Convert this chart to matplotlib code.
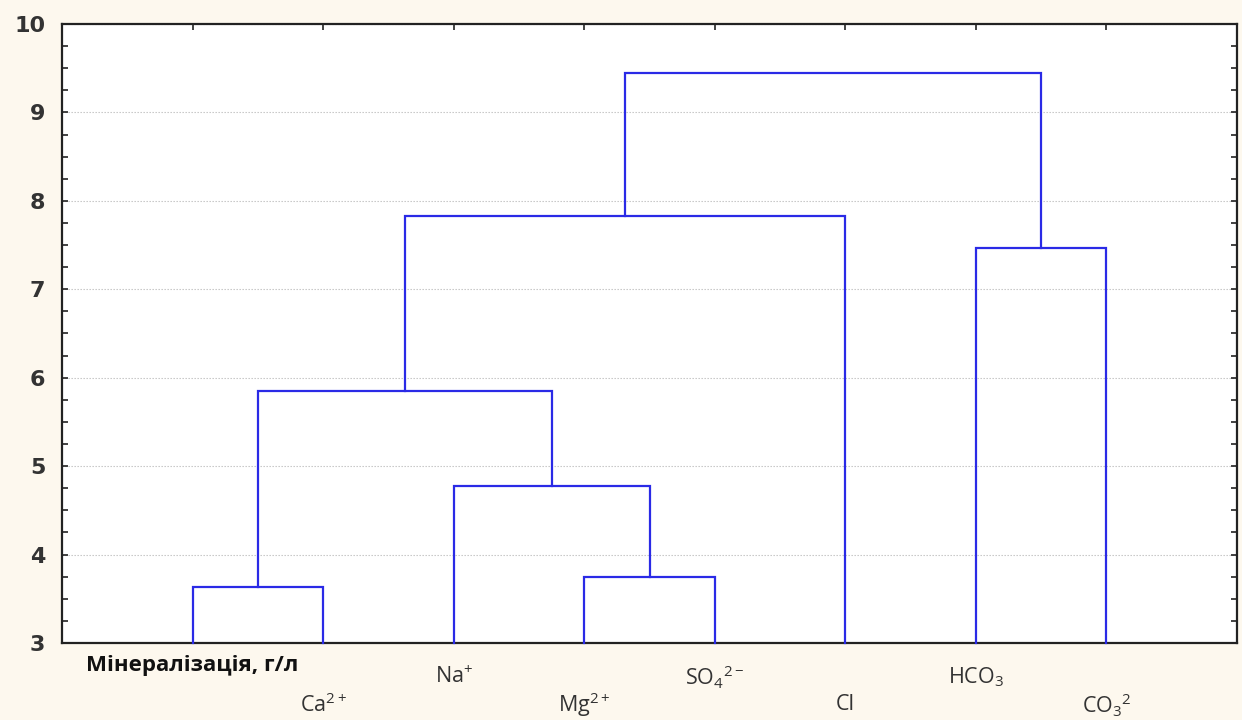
import matplotlib
matplotlib.use("Agg")
import matplotlib.pyplot as plt
from matplotlib.ticker import MultipleLocator
import matplotlib.transforms as mtransforms

# ---- data ----
leaf_labels = ["Мінералізація, г/л", "Ca$^{\\mathregular{2+}}$", "Na$^{\\mathregular{+}}$",
               "Mg$^{\\mathregular{2+}}$", "SO$_{\\mathregular{4}}$$^{\\mathregular{2-}}$", "Cl",
               "HCO$_{\\mathregular{3}}$", "CO$_{\\mathregular{3}}$$^{\\mathregular{2}}$"]
# merges: (cluster a, cluster b, linkage distance); new clusters numbered from 8
merge_a = [0, 3, 2, 8, 11, 6, 12]
merge_b = [1, 4, 9, 10, 5, 7, 13]
merge_h = [3.63, 3.75, 4.77, 5.85, 7.83, 7.47, 9.45]

y_ticks = [3, 4, 5, 6, 7, 8, 9, 10]

line_color = "#2a2ae6"
bg = "#fdf8ee"

fig = plt.figure(figsize=(12.42, 7.2), dpi=100, facecolor=bg)
ax = fig.add_axes([62 / 1242, 77 / 720, (1237 - 62) / 1242, (643 - 24) / 720])
ax.set_facecolor("white")

n = len(leaf_labels)
xpos = {i: i + 1 for i in range(n)}
ypos = {i: 3.0 for i in range(n)}
for k, (a, b, h) in enumerate(zip(merge_a, merge_b, merge_h)):
    xa, xb = xpos[a], xpos[b]
    ya, yb = ypos[a], ypos[b]
    ax.plot([xa, xa, xb, xb], [ya, h, h, yb], color=line_color, lw=1.6,
            solid_joinstyle="miter", zorder=3, clip_on=False)
    new = n + k
    xpos[new] = (xa + xb) / 2
    ypos[new] = h

ax.set_xlim(0, n + 1)
ax.set_ylim(3, 10)
ax.set_yticks(y_ticks)
ax.yaxis.set_minor_locator(MultipleLocator(0.25))
ax.set_xticks(range(1, n + 1))
ax.set_xticklabels([])
ax.grid(axis="y", which="major", linestyle=(0, (1.2, 1.5)), color="#c0c0c0", lw=0.8)
ax.tick_params(axis="y", which="both", direction="in", left=True, right=True,
               length=4, width=1.2, color="#222222")
ax.tick_params(axis="x", which="both", direction="in", top=True, bottom=True,
               length=4, width=1.2, color="#222222")
for lab in ax.get_yticklabels():
    lab.set_fontweight("bold")
    lab.set_fontsize(16)
    lab.set_family("DejaVu Sans")
    lab.set_color("#333333")
ax.tick_params(axis="y", pad=12)
for sp in ax.spines.values():
    sp.set_linewidth(1.6)
    sp.set_color("#222222")

trans = mtransforms.blended_transform_factory(ax.transData, fig.transFigure)
for i, lab in enumerate(leaf_labels):
    if i == 0:
        ax.text(i + 1, 1 - 665 / 720, lab, transform=trans, ha="center", va="center",
                fontsize=16, fontweight="bold", color="#111111", family="Open Sans")
    elif i % 2 == 0:
        ax.text(i + 1, 1 - 677 / 720, lab, transform=trans, ha="center", va="center",
                fontsize=15.5, color="#333333", family="Open Sans")
    else:
        ax.text(i + 1, 1 - 705 / 720, lab, transform=trans, ha="center", va="center",
                fontsize=15.5, color="#333333", family="Open Sans")

fig.savefig("out.png", dpi=100, facecolor=bg)
